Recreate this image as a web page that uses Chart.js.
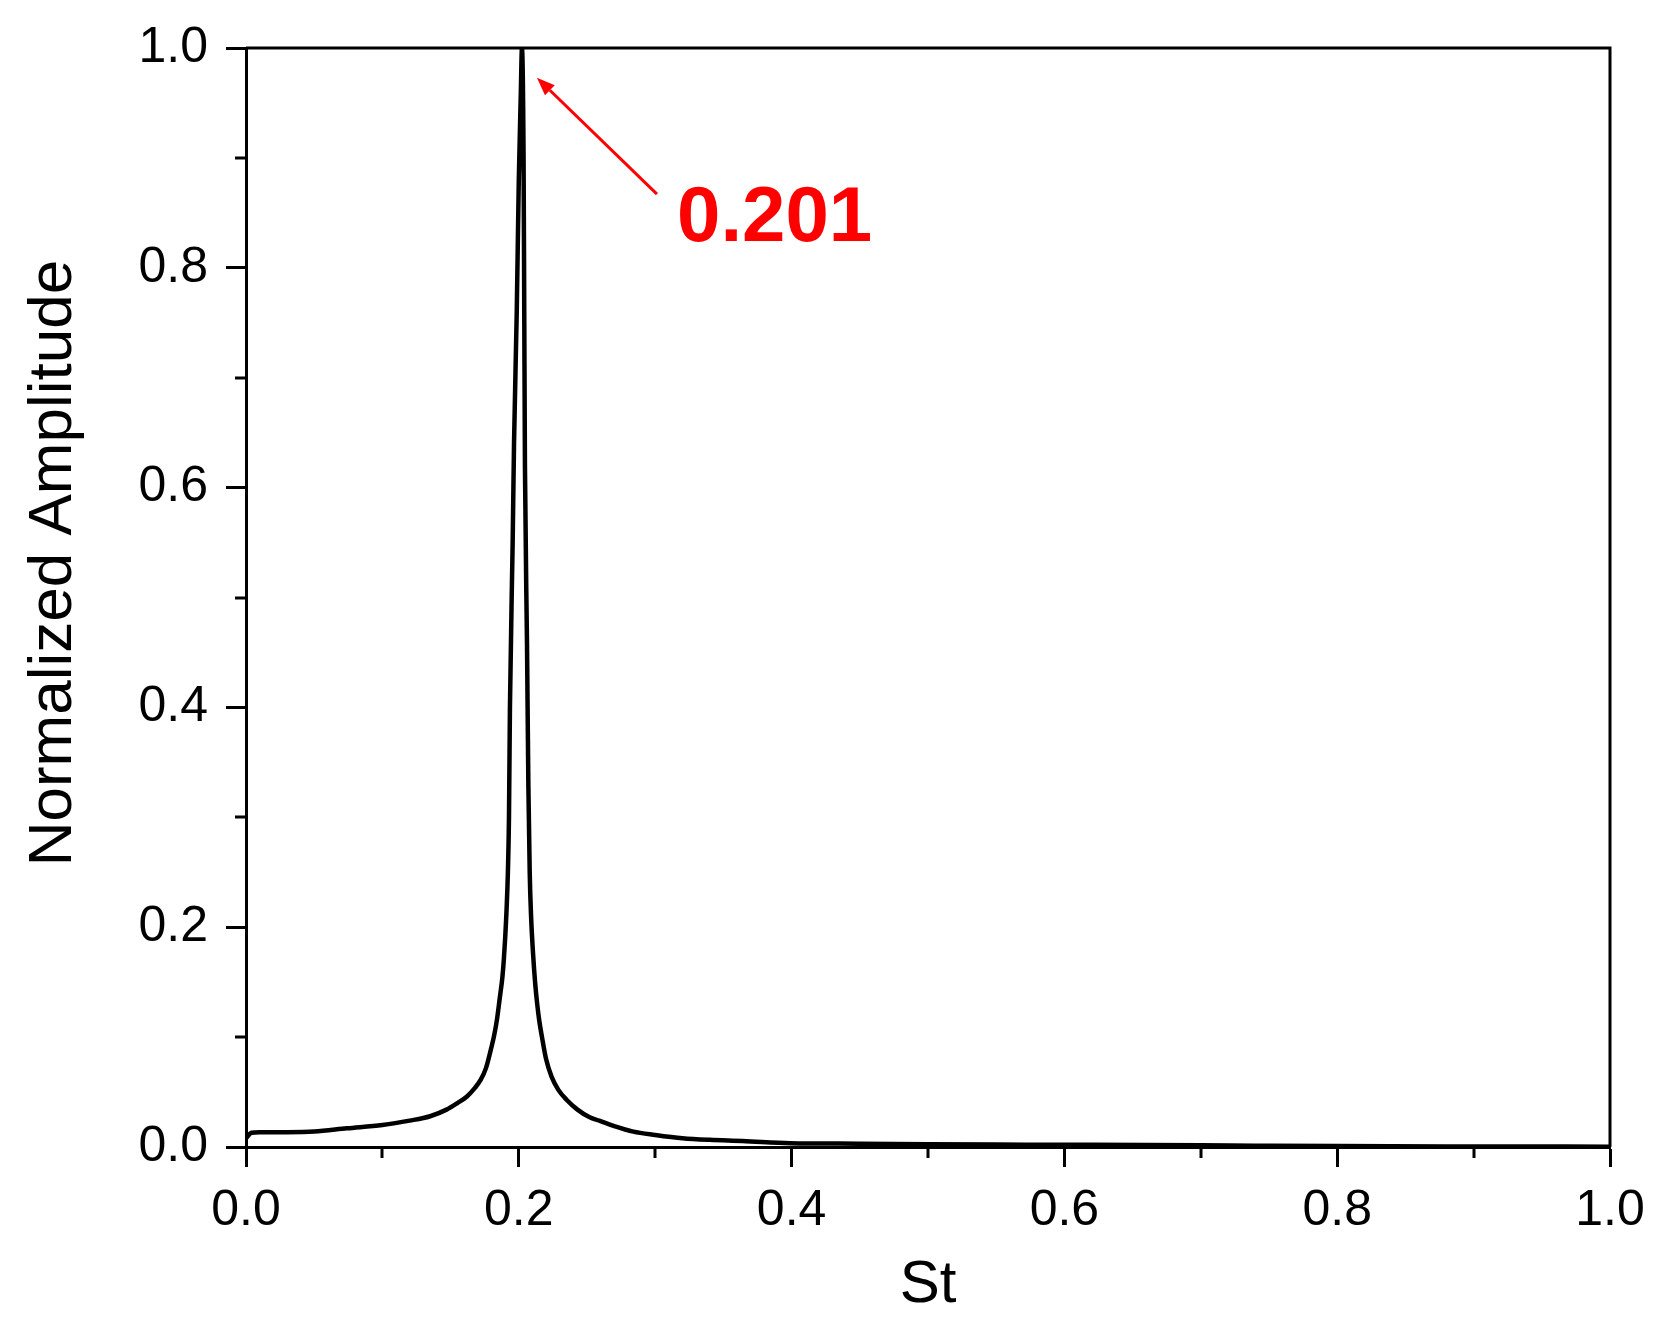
<!DOCTYPE html>
<html>
<head>
<meta charset="utf-8">
<script src="https://cdn.jsdelivr.net/npm/chart.js@4.4.1/dist/chart.umd.min.js"></script>
<style>
    html, body { margin: 0; padding: 0; background: #ffffff; }
    #wrap { width: 1661px; height: 1335px; position: relative; }
</style>
</head>
<body>
<div id="wrap"><canvas id="spectrumChart"></canvas></div>
<script>
// Spectrum data (St vs normalized amplitude)
const stValues = [
    0.000, 0.004, 0.010, 0.030, 0.050, 0.074, 0.100, 0.120, 0.135, 0.147,
    0.155, 0.162, 0.168, 0.172, 0.176, 0.179, 0.182, 0.184, 0.186, 0.188,
    0.189, 0.190, 0.191, 0.192, 0.1928, 0.1935, 0.1955, 0.1965, 0.1985, 0.2000,
    0.2015, 0.2023, 0.2035, 0.2040, 0.2045, 0.2060, 0.2070, 0.2080, 0.2090, 0.2105,
    0.2120, 0.2135, 0.2150, 0.2170, 0.2200, 0.2240, 0.2290, 0.2350, 0.2430, 0.2520,
    0.2590, 0.2700, 0.2840, 0.3000, 0.3200, 0.3400, 0.3640, 0.3990, 0.4500, 0.5000,
    0.5500, 0.6200, 0.7000, 0.7400, 0.8000, 0.9000, 1.0000
];
const amplitudeValues = [
    0.008, 0.013, 0.0135, 0.0135, 0.014, 0.017, 0.020, 0.024, 0.028, 0.034,
    0.040, 0.046, 0.054, 0.061, 0.072, 0.086, 0.102, 0.116, 0.135, 0.155,
    0.170, 0.190, 0.215, 0.250, 0.300, 0.400, 0.550, 0.640, 0.760, 0.880,
    0.960, 1.000, 0.900, 0.760, 0.620, 0.460, 0.330, 0.250, 0.210, 0.175,
    0.149, 0.130, 0.115, 0.100, 0.080, 0.064, 0.052, 0.043, 0.034, 0.027,
    0.024, 0.019, 0.014, 0.011, 0.008, 0.0065, 0.0055, 0.0035, 0.003, 0.0025,
    0.0022, 0.002, 0.0015, 0.0012, 0.0008, 0.0005, 0.0003
];

// Axis ticks
const xMajorTicks = [0.0, 0.2, 0.4, 0.6, 0.8, 1.0];
const xMinorTicks = [0.1, 0.3, 0.5, 0.7, 0.9];
const yMajorTicks = [0.0, 0.2, 0.4, 0.6, 0.8, 1.0];
const yMinorTicks = [0.1, 0.3, 0.5, 0.7, 0.9];

// Peak annotation (data coordinates)
const peakLabel = '0.201';
const arrowTail = [0.3013, 0.867];
const arrowTip = [0.2133, 0.973];
const labelPos = [0.3160, 0.8245];

const FONT = "'Liberation Sans', Arial, Helvetica, sans-serif";

// Draws the minor ticks, the top/right frame and the red peak annotation
const decorPlugin = {
    id: 'decor',
    afterDraw(chart) {
        const ctx = chart.ctx;
        const xs = chart.scales.x;
        const ys = chart.scales.y;
        const area = chart.chartArea;

        ctx.save();
        ctx.strokeStyle = '#000000';
        ctx.lineWidth = 3;

        // top and right border
        ctx.beginPath();
        ctx.moveTo(area.left, area.top);
        ctx.lineTo(area.right, area.top);
        ctx.lineTo(area.right, area.bottom);
        ctx.stroke();

        // minor ticks
        ctx.beginPath();
        xMinorTicks.forEach(v => {
            const px = Math.round(xs.getPixelForValue(v));
            ctx.moveTo(px, area.bottom);
            ctx.lineTo(px, area.bottom + 11);
        });
        yMinorTicks.forEach(v => {
            const py = Math.round(ys.getPixelForValue(v));
            ctx.moveTo(area.left, py);
            ctx.lineTo(area.left - 11, py);
        });
        ctx.stroke();

        // arrow
        const x1 = xs.getPixelForValue(arrowTail[0]);
        const y1 = ys.getPixelForValue(arrowTail[1]);
        const x2 = xs.getPixelForValue(arrowTip[0]);
        const y2 = ys.getPixelForValue(arrowTip[1]);
        const ang = Math.atan2(y2 - y1, x2 - x1);
        const headLen = 18;
        const headHalf = 7;
        const bx = x2 - headLen * Math.cos(ang);
        const by = y2 - headLen * Math.sin(ang);

        ctx.strokeStyle = '#ff0000';
        ctx.fillStyle = '#ff0000';
        ctx.lineWidth = 3;
        ctx.beginPath();
        ctx.moveTo(x1, y1);
        ctx.lineTo(bx, by);
        ctx.stroke();
        ctx.beginPath();
        ctx.moveTo(x2, y2);
        ctx.lineTo(bx + headHalf * Math.sin(ang), by - headHalf * Math.cos(ang));
        ctx.lineTo(bx - headHalf * Math.sin(ang), by + headHalf * Math.cos(ang));
        ctx.closePath();
        ctx.fill();

        // label
        ctx.font = 'bold 78px ' + FONT;
        ctx.textAlign = 'left';
        ctx.textBaseline = 'alphabetic';
        ctx.fillText(peakLabel, xs.getPixelForValue(labelPos[0]), ys.getPixelForValue(labelPos[1]));
        ctx.restore();
    }
};

const points = stValues.map((st, i) => ({ x: st, y: amplitudeValues[i] }));

new Chart(document.getElementById('spectrumChart'), {
    type: 'line',
    data: {
        datasets: [{
            label: 'Spectrum',
            data: points,
            borderColor: '#000000',
            borderWidth: 4.5,
            pointRadius: 0,
            cubicInterpolationMode: 'monotone',
            fill: false
        }]
    },
    options: {
        responsive: true,
        maintainAspectRatio: false,
        animation: false,
        events: [],
        layout: {
            padding: { top: 47, right: 51, bottom: 0, left: 0 }
        },
        plugins: {
            legend: { display: false },
            tooltip: { enabled: false }
        },
        scales: {
            x: {
                type: 'linear',
                min: 0,
                max: 1,
                afterBuildTicks: scale => {
                    scale.ticks = xMajorTicks.map(v => ({ value: v }));
                },
                afterFit: scale => { scale.height = 188; },
                ticks: {
                    color: '#000000',
                    padding: 14,
                    maxRotation: 0,
                    font: { family: FONT, size: 50 },
                    callback: v => v.toFixed(1)
                },
                grid: {
                    drawOnChartArea: false,
                    drawTicks: true,
                    tickLength: 20,
                    tickWidth: 3,
                    tickColor: '#000000'
                },
                border: { display: true, color: '#000000', width: 3 },
                title: {
                    display: true,
                    text: 'St',
                    color: '#000000',
                    font: { family: FONT, size: 60 },
                    padding: { top: 0, bottom: 14 }
                }
            },
            y: {
                type: 'linear',
                min: 0,
                max: 1,
                afterBuildTicks: scale => {
                    scale.ticks = yMajorTicks.map(v => ({ value: v }));
                },
                afterFit: scale => { scale.width = 246; },
                ticks: {
                    color: '#000000',
                    padding: 18,
                    font: { family: FONT, size: 50 },
                    callback: v => v.toFixed(1)
                },
                grid: {
                    drawOnChartArea: false,
                    drawTicks: true,
                    tickLength: 20,
                    tickWidth: 3,
                    tickColor: '#000000'
                },
                border: { display: true, color: '#000000', width: 3 },
                title: {
                    display: true,
                    // leading spaces nudge the centred title upwards as in the original
                    text: '    Normalized Amplitude',
                    color: '#000000',
                    font: { family: FONT, size: 62 },
                    padding: { top: 17, bottom: 0 }
                }
            }
        }
    },
    plugins: [decorPlugin]
});
</script>
</body>
</html>
